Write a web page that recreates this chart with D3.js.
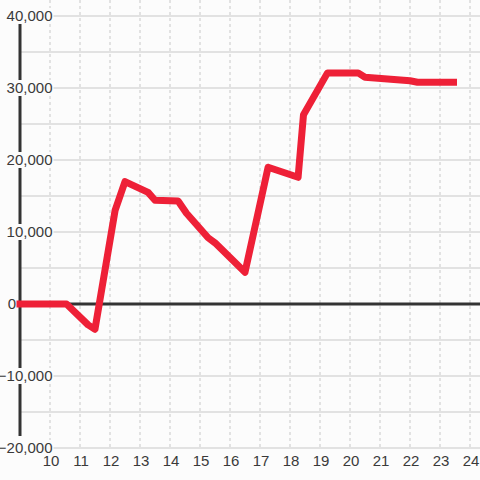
<!DOCTYPE html>
<html>
<head>
<meta charset="utf-8">
<script src="https://cdn.jsdelivr.net/npm/d3@7"></script>
<style>
	body { margin: 0; background: #fcfcfc; }
	svg { display: block; font-family: "Liberation Sans", Arial, sans-serif; }
</style>
</head>
<body>
<svg id="chart"></svg>
<script>
const WIDTH = 480;
const HEIGHT = 480;

// hour of day vs running total
const hours = [9, 10.55, 11.27, 11.5, 12.17, 12.5, 13.27, 13.5, 14.27, 14.55, 15.27, 15.5, 16.5, 17.27, 18.27, 18.45, 19.25, 20.27, 20.5, 22, 22.25, 23.45];
const totals = [0, 0, -2900, -3500, 13000, 17000, 15500, 14400, 14300, 12600, 9200, 8500, 4400, 19000, 17600, 26300, 32100, 32100, 31500, 31000, 30800, 30800];

const xTicks = [10, 11, 12, 13, 14, 15, 16, 17, 18, 19, 20, 21, 22, 23, 24];
const yTicks = [-20000, -10000, 0, 10000, 20000, 30000, 40000];
const yGrid = d3.range(-20000, 40001, 5000);

const BG = "#fcfcfc";
const TEXT = "#3a3a3a";
const svg = d3.select("#chart").attr("width", WIDTH).attr("height", HEIGHT);

const xScale = d3.scaleLinear([9, 24], [20, 470]);
const yScale = d3.scaleLinear([-20000, 40000], [448, 16]);

svg.append("rect").attr("width", WIDTH).attr("height", HEIGHT).attr("fill", BG);

// vertical dashed grid
svg.selectAll(".vgrid")
	.data(xTicks)
	.join("line")
	.attr("class", "vgrid")
	.attr("x1", d => xScale(d))
	.attr("x2", d => xScale(d))
	.attr("y1", 0)
	.attr("y2", yScale(-20000))
	.attr("stroke", "#c8c8c8")
	.attr("stroke-dasharray", "3,3");

// horizontal grid
svg.selectAll(".hgrid")
	.data(yGrid)
	.join("line")
	.attr("class", "hgrid")
	.attr("x1", 20)
	.attr("x2", WIDTH)
	.attr("y1", d => yScale(d))
	.attr("y2", d => yScale(d))
	.attr("stroke", "#c8c8c8");

// y axis and zero line
svg.append("line")
	.attr("x1", 20).attr("x2", 20)
	.attr("y1", yScale(40000)).attr("y2", yScale(-20000) - 12)
	.attr("stroke", "#333").attr("stroke-width", 3);

svg.append("line")
	.attr("x1", 20).attr("x2", WIDTH)
	.attr("y1", yScale(0)).attr("y2", yScale(0))
	.attr("stroke", "#333").attr("stroke-width", 3);

// y labels with background boxes (zero sits left of the axis)
const fmt = d3.format(",");
const yLabels = svg.selectAll(".ylabel")
	.data(yTicks)
	.join("g")
	.attr("class", "ylabel")
	.attr("transform", d => `translate(${d === 0 ? 16 : 52.5},${yScale(d)})`);

yLabels.append("text")
	.attr("text-anchor", "end")
	.attr("dy", "0.35em")
	.attr("font-size", 15)
	.attr("fill", TEXT)
	.text(d => fmt(d));

yLabels.filter(d => d !== 0).each(function () {
	const g = d3.select(this);
	const box = g.select("text").node().getBBox();
	g.insert("rect", "text")
		.attr("x", box.x - 1)
		.attr("y", -8)
		.attr("width", box.width + 2)
		.attr("height", 16)
		.attr("fill", BG);
});

// data line
const line = d3.line()
	.x((d, i) => xScale(hours[i]))
	.y(d => yScale(d));

svg.append("path")
	.datum(totals)
	.attr("d", line)
	.attr("fill", "none")
	.attr("stroke", "#ee2037")
	.attr("stroke-width", 7)
	.attr("stroke-linejoin", "round")
	.attr("stroke-linecap", "square");

// x labels
svg.selectAll(".xlabel")
	.data(xTicks)
	.join("text")
	.attr("class", "xlabel")
	.attr("x", d => xScale(d) + 1)
	.attr("y", 466)
	.attr("text-anchor", "middle")
	.attr("font-size", 15)
	.attr("fill", TEXT)
	.text(d => d);
</script>
</body>
</html>
